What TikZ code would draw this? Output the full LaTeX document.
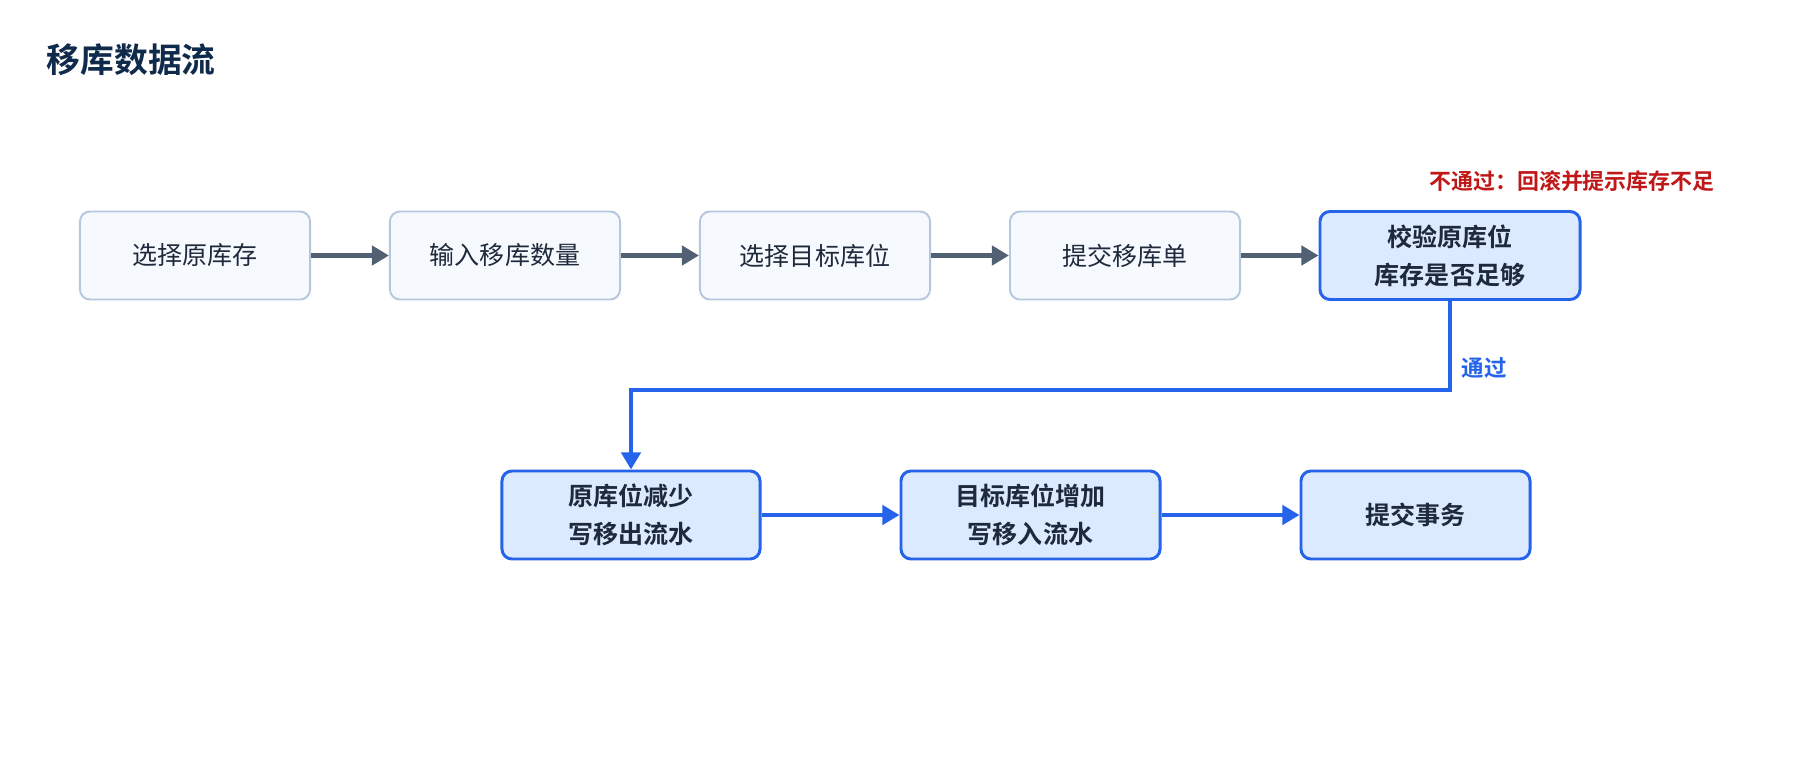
\documentclass[tikz,border=0pt]{standalone}
\usepackage{fontspec}
\setmainfont{Noto Sans CJK SC}[BoldFont={Noto Sans CJK SC Bold}]
\usetikzlibrary{arrows.meta}
\definecolor{inkdark}{HTML}{1E293B}
\definecolor{titleblue}{HTML}{0F2A4A}
\definecolor{softfill}{HTML}{F6FAFF}
\definecolor{softline}{HTML}{B7C8DE}
\definecolor{slate}{HTML}{526074}
\definecolor{keyfill}{HTML}{DBEAFE}
\definecolor{keyline}{HTML}{2563EB}
\definecolor{failred}{HTML}{C01818}

\begin{document}
\begin{tikzpicture}[x=0.025cm,y=-0.025cm,
  plain/.style={draw=softline,fill=softfill,line width=1.4pt,rounded corners=0.25cm,
    minimum width=5.75cm,minimum height=2.2cm,align=center,text=inkdark,
    font=\fontsize{17.8}{27}\selectfont},
  keybox/.style={draw=keyline,fill=keyfill,line width=2.1pt,rounded corners=0.25cm,
    minimum height=2.2cm,align=center,text=inkdark,
    font=\bfseries\fontsize{17.8}{27}\selectfont},
  flow/.style={draw=slate,line width=3.2pt,-{Triangle[length=0.43cm,width=0.48cm]}},
  go/.style={draw=keyline,line width=3.2pt,-{Triangle[length=0.43cm,width=0.48cm]}}]
\fill[white] (0,0) rectangle (1800,760);
\node[anchor=west,text=titleblue,font=\bfseries\fontsize{24}{28}\selectfont] (title) at (42,60) {移库数据流};
% first row
\node[plain] (pick) at (195,255.5) {选择原库存};
\node[plain] (qty) at (505,255.5) {输入移库数量};
\node[plain] (target) at (815,255.5) {选择目标库位};
\node[plain] (submit) at (1125,255.5) {提交移库单};
\node[keybox,minimum width=6.5cm] (check) at (1450,255.5) {校验原库位\\库存是否足够};
\node[text=failred,font=\bfseries\fontsize{15.6}{20}\selectfont] (fail) at (1572,181) {不通过：回滚并提示库存不足};
% second row
\node[keybox,minimum width=6.45cm] (reduce) at (631,515) {原库位减少\\写移出流水};
\node[keybox,minimum width=6.475cm] (add) at (1030.5,515) {目标库位增加\\写移入流水};
\node[keybox,minimum width=5.725cm] (commit) at (1415.5,515) {提交事务};
\coordinate (turn) at (631,390);
\node[anchor=west,text=keyline,font=\bfseries\fontsize{16}{20}\selectfont] (pass) at (1457,368) {通过};
\path[flow] (pick) -- (qty);
\path[flow] (qty) -- (target);
\path[flow] (target) -- (submit);
\path[flow] (submit) -- (check);
\path[go] (check.south) |- (turn) -- (reduce.north);
\path[go] (reduce) -- (add);
\path[go] (add) -- (commit);
\end{tikzpicture}
\end{document}
